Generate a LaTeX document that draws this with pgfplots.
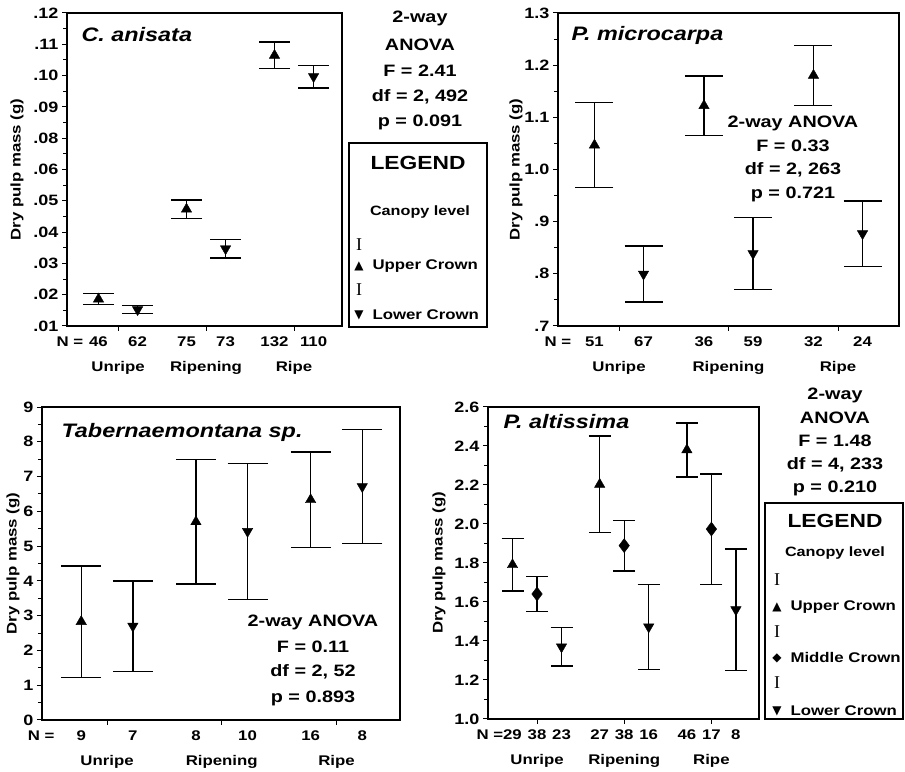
\documentclass[border=0pt]{standalone}
\usepackage{fontspec}
\setmainfont{Liberation Sans}[FakeStretch=1.2]
\newfontfamily\symf{DejaVu Sans}
\newfontfamily\serf{Liberation Serif}
\usepackage{pgfplots}
\pgfplotsset{compat=1.18}

\newcommand\fs[1]{\fontsize{#1}{#1}\selectfont\bfseries}

\pgfplotsset{
  panel/.style={
    scale only axis, clip=false, anchor=south west,
    axis line style={line width=1.4pt},
    tick pos=left, tick align=outside,
    major tick length=5pt, minor tick length=4pt,
    every tick/.append style={black, line width=1pt},
    minor y tick num=1,
    xtick={1,2,3}, xticklabels={Unripe,Ripening,Ripe},
    x tick label style={font=\fs{14}, yshift=-27pt},
    y tick label style={font=\fs{15}},
    extra x tick style={major tick length=0pt, x tick label style={yshift=20pt}},
    ylabel={Dry pulp mass (g)},
    ylabel style={font=\fs{14}, anchor=center},
  },
  up/.style={mark=triangle*, mark size=6pt},
  dn/.style={mark=triangle*, mark size=6pt, every mark/.append style={rotate=180}},
  mid/.style={mark=diamond*, mark size=7pt},
  ci/.style={only marks, black,
    error bars/.cd, y dir=both, y explicit,
    error bar style={line width=1.4pt},
    error mark options={rotate=90, mark size=#1, line width=1.4pt}},
}

\begin{document}
\begin{tikzpicture}
\path (0,0) rectangle (905pt,769pt);

% C. anisata
\begin{axis}[panel, at={(67pt,443pt)}, width=275pt, height=313pt,
  xmin=0.42, xmax=3.545, ymin=0.01, ymax=0.12,
  ytick={0.01,0.021,0.032,0.043,0.054,0.065,0.076,0.087,0.098,0.109,0.12},
  yticklabels={.01,.02,.03,.04,.05,.06,.08,.09,.10,.11,.12},
  extra x ticks={0.778,1.222,1.778,2.222,2.778,3.222},
  extra x tick labels={\llap{N =\hspace{6pt}}46,62,75,73,132,110},
  ylabel style={at={([xshift=-50pt]rel axis cs:0,0.5)}}]
\addplot[up, ci=15.5pt] coordinates {
  (0.778,0.01945) +- (0,0.00195)
  (1.778,0.05105) +- (0,0.00325)
  (2.778,0.1051) +- (0,0.0047)
};
\addplot[dn, ci=15.5pt] coordinates {
  (1.222,0.01575) +- (0,0.00145)
  (2.222,0.03715) +- (0,0.00325)
  (3.222,0.09765) +- (0,0.00395)
};
\end{axis}

% P. microcarpa
\begin{axis}[panel, at={(558pt,443pt)}, width=341pt, height=313pt,
  xmin=0.443, xmax=3.557, ymin=0.7, ymax=1.3,
  ytick={0.7,0.8,0.9,1.0,1.1,1.2,1.3},
  yticklabels={.7,.8,.9,1.0,1.1,1.2,1.3},
  extra x ticks={0.776,1.224,1.776,2.224,2.776,3.224},
  extra x tick labels={\llap{N =\hspace{14pt}}51,67,36,59,32,24},
  ylabel style={at={([xshift=-42pt]rel axis cs:0,0.5)}}]
\addplot[up, ci=19pt] coordinates {
  (0.776,1.0468) +- (0,0.0817)
  (1.776,1.1223) +- (0,0.0573)
  (2.776,1.1805) +- (0,0.0575)
};
\addplot[dn, ci=19pt] coordinates {
  (1.224,0.7995) +- (0,0.0535)
  (2.224,0.839) +- (0,0.069)
  (3.224,0.877) +- (0,0.0625)
};
\end{axis}

% Tabernaemontana sp.
\begin{axis}[panel, at={(42pt,49pt)}, width=358pt, height=313pt,
  xmin=0.433, xmax=3.554, ymin=0, ymax=9,
  ytick={0,1,...,9},
  yticklabels={0,1,2,3,4,5,6,7,8,9},
  extra x ticks={0.775,1.225,1.775,2.225,2.775,3.225},
  extra x tick labels={\llap{N =\hspace{22pt}}9,7,8,10,16,8},
  ylabel style={at={([xshift=-29pt]rel axis cs:0,0.5)}}]
\addplot[up, ci=20pt] coordinates {
  (0.775,2.83) +- (0,1.60)
  (1.775,5.70) +- (0,1.795)
  (2.775,6.334) +- (0,1.374)
};
\addplot[dn, ci=20pt] coordinates {
  (1.225,2.70) +- (0,1.30)
  (2.225,5.424) +- (0,1.958)
  (3.225,6.712) +- (0,1.637)
};
\end{axis}

% P. altissima
\begin{axis}[panel, at={(488pt,50pt)}, width=271pt, height=312pt,
  xmin=0.438, xmax=3.546, ymin=1.0, ymax=2.6,
  ytick={1.0,1.2,1.4,1.6,1.8,2.0,2.2,2.4,2.6},
  yticklabels={1.0,1.2,1.4,1.6,1.8,2.0,2.2,2.4,2.6},
  extra x ticks={0.719,1,1.281,1.719,2,2.281,2.719,3,3.281},
  extra x tick labels={\llap{N =}29,38,23,27,38,16,46,17,8},
  ylabel style={at={([xshift=-49pt]rel axis cs:0,0.5)}}]
\addplot[up, ci=11pt] coordinates {
  (0.719,1.791) +- (0,0.134)
  (1.719,2.203) +- (0,0.2475)
  (2.719,2.38) +- (0,0.138)
};
\addplot[mid, ci=11pt] coordinates {
  (1,1.641) +- (0,0.090)
  (2,1.889) +- (0,0.1295)
  (3,1.974) +- (0,0.283)
};
\addplot[dn, ci=11pt] coordinates {
  (1.281,1.370) +- (0,0.099)
  (2.281,1.4725) +- (0,0.2185)
  (3.281,1.5605) +- (0,0.3115)
};
\end{axis}

% panel titles
\begin{scope}[every node/.style={anchor=west, font=\fontsize{19.5}{20}\selectfont\bfseries\itshape}]
\node at (78pt,734pt) {C. anisata};
\node at (568pt,734pt) {P. microcarpa};
\node at (58pt,337pt) {Tabernaemontana sp.};
\node at (500pt,347pt) {P. altissima};
\end{scope}

% ANOVA results
\begin{scope}[every node/.style={font=\fs{16.5}}]
\node at (420pt,751pt) {2-way};
\node at (420pt,724pt) {ANOVA};
\node at (420pt,698pt) {F = 2.41};
\node at (420pt,672pt) {df = 2, 492};
\node at (420pt,647pt) {p = 0.091};
\node at (793pt,646pt) {2-way ANOVA};
\node at (793pt,623pt) {F = 0.33};
\node at (793pt,599pt) {df = 2, 263};
\node at (793pt,575pt) {p = 0.721};
\node at (313pt,147pt) {2-way ANOVA};
\node at (313pt,122pt) {F = 0.11};
\node at (313pt,97pt) {df = 2, 52};
\node at (313pt,71pt) {p = 0.893};
\node at (835pt,374pt) {2-way};
\node at (835pt,351pt) {ANOVA};
\node at (835pt,328pt) {F = 1.48};
\node at (835pt,304pt) {df = 4, 233};
\node at (835pt,281pt) {p = 0.210};
\end{scope}

% legend boxes
\draw[line width=1.2pt] (349pt,442pt) rectangle (487pt,626pt);
\node[font=\fs{19}] at (418pt,606pt) {LEGEND};
\node[font=\fs{13.5}] at (420pt,557pt) {Canopy level};
\node[font=\serf\fontsize{18}{18}\selectfont] at (359pt,524pt) {I};
\node[font=\symf\fontsize{12}{12}\selectfont] at (359pt,503pt) {▲};
\node[anchor=west, font=\fs{14}] at (369pt,503pt) {Upper Crown};
\node[font=\serf\fontsize{18}{18}\selectfont] at (359pt,479pt) {I};
\node[font=\symf\fontsize{12}{12}\selectfont] at (359pt,454pt) {▼};
\node[anchor=west, font=\fs{14}] at (369pt,454pt) {Lower Crown};

\draw[line width=1.2pt] (765pt,50pt) rectangle (903pt,266pt);
\node[font=\fs{19}] at (835pt,248pt) {LEGEND};
\node[font=\fs{13.5}] at (835pt,216pt) {Canopy level};
\node[font=\serf\fontsize{18}{18}\selectfont] at (777pt,189pt) {I};
\node[font=\symf\fontsize{12}{12}\selectfont] at (777pt,162pt) {▲};
\node[anchor=west, font=\fs{14}] at (787pt,162pt) {Upper Crown};
\node[font=\serf\fontsize{18}{18}\selectfont] at (777pt,137pt) {I};
\node[font=\symf\fontsize{12}{12}\selectfont] at (777pt,111pt) {◆};
\node[anchor=west, font=\fs{14}] at (787pt,111pt) {Middle Crown};
\node[font=\serf\fontsize{18}{18}\selectfont] at (777pt,86pt) {I};
\node[font=\symf\fontsize{12}{12}\selectfont] at (777pt,58pt) {▼};
\node[anchor=west, font=\fs{14}] at (787pt,58pt) {Lower Crown};
\end{tikzpicture}
\end{document}
